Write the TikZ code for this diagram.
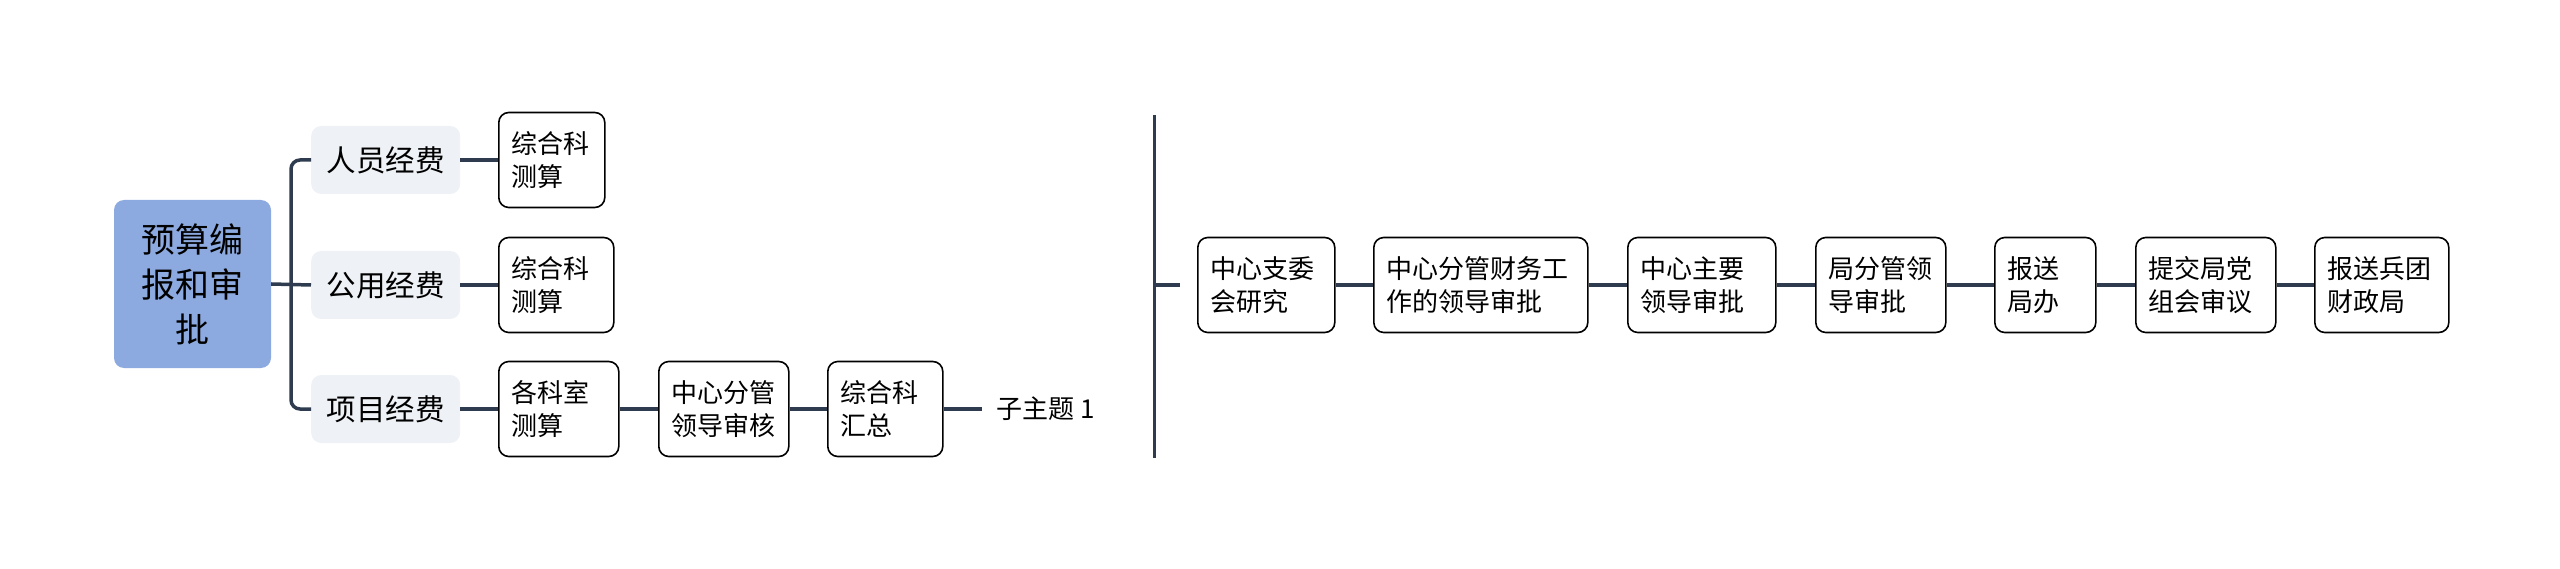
\documentclass[tikz,border=0pt]{standalone}
\usepackage{fontspec}
\setmainfont{Noto Sans CJK SC}
\usetikzlibrary{positioning}

\definecolor{linecol}{HTML}{2F3B4F}
\definecolor{rootcol}{HTML}{8DAAE0}
\definecolor{catcol}{HTML}{EEF1F5}

\tikzset{
    rootbox/.style={fill=rootcol, rounded corners=10pt, minimum width=157pt, minimum height=168pt,
        align=center, font=\fontsize{34}{45}\selectfont},
    catbox/.style={fill=catcol, rounded corners=10pt, minimum width=149pt, minimum height=68pt,
        anchor=west, font=\fontsize{29.5}{36}\selectfont},
    stepbox/.style={draw=black, line width=1.6pt, rounded corners=10pt, fill=white, minimum height=95pt,
        inner xsep=13pt, text width=#1, align=left, anchor=west, font=\fontsize{26}{33}\selectfont},
    link/.style={draw=linecol, line width=3.5pt},
}

\begin{document}
\begin{tikzpicture}[x=1pt, y=-1pt]
    \useasboundingbox (0,0) rectangle (2560,569);

    % Root and categories
    \node[rootbox] (root) at (192.5,284) {预算编\\报和审\\批};
    \node[catbox] (staff) at (311,160) {人员经费};
    \node[catbox] (public) at (311,285) {公用经费};
    \node[catbox] (project) at (311,409) {项目经费};

    % Second level
    \node[stepbox=80pt] (calcA) at (498,160) {综合科\\测算};
    \node[stepbox=89pt] (calcB) at (498,285) {综合科\\测算};
    \node[stepbox=94pt] (calcC) at (498,409) {各科室\\测算};
    \node[stepbox=104pt] (review) at (658,409) {中心分管\\领导审核};
    \node[stepbox=89pt] (summary) at (827,409) {综合科\\汇总};
    \node[anchor=west, inner xsep=14pt, font=\fontsize{26}{33}\selectfont] (sub) at (982,409) {子主题 1};

    % Bracket
    \coordinate (fork) at (291,284);
    \draw[link] (root.east) -- (public.west);
    \draw[link, rounded corners=9pt] (staff.west) -| (fork) |- (project.west);
    \draw[link] (staff.east) -- (calcA.west);
    \draw[link] (public.east) -- (calcB.west);
    \draw[link] (project.east) -- (calcC.west);
    \draw[link] (calcC.east) -- (review.west);
    \draw[link] (review.east) -- (summary.west);
    \draw[link] (summary.east) -- (sub.west);

    % Divider
    \coordinate (divtop) at (1154,115);
    \coordinate (divbot) at (1154,458);
    \coordinate (divmid) at (1154,285);
    \coordinate (stubend) at (1180,285);
    \draw[link, line width=3pt] (divtop) -- (divbot);
    \draw[link] (divmid) -- (stubend);

    % Approval chain
    \foreach \n/\x/\w/\t in {c1/1197/111pt/{中心支委\\会研究}, c2/1373/188pt/{中心分管财务工\\作的领导审批},
        c3/1627/122pt/{中心主要\\领导审批}, c4/1815/104pt/{局分管领\\导审批}, c5/1994/75pt/{报送\\局办},
        c6/2135/114pt/{提交局党\\组会审议}, c7/2314/108pt/{报送兵团\\财政局}}{
        \node[stepbox=\w] (\n) at (\x,285) {\t};
    }
    \foreach \a/\b in {c1/c2, c2/c3, c3/c4, c4/c5, c5/c6, c6/c7}{
        \draw[link] (\a.east) -- (\b.west);
    }
\end{tikzpicture}
\end{document}
